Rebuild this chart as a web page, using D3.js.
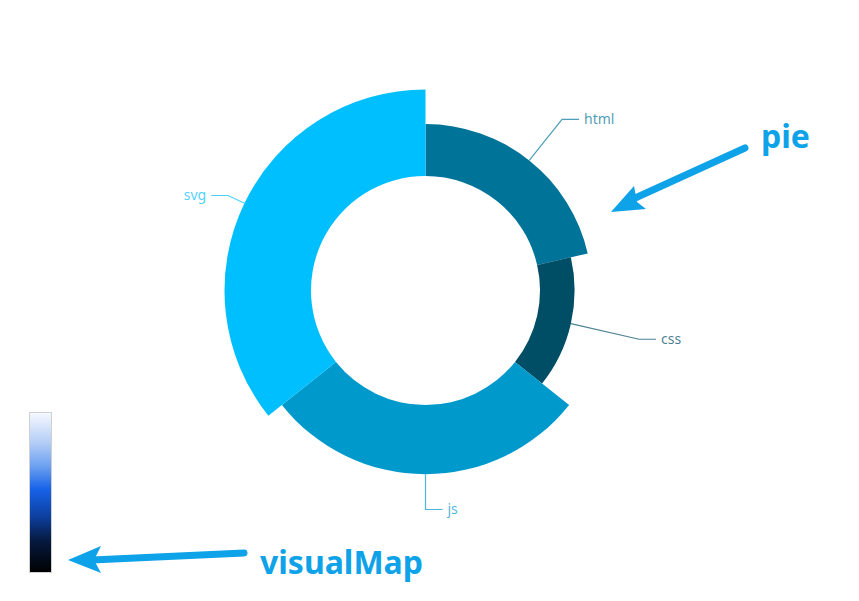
<!DOCTYPE html>
<html>
<head>
<meta charset="utf-8">
<script src="https://cdn.jsdelivr.net/npm/d3@7/dist/d3.min.js"></script>
<style>
  body { margin: 0; background: #fff; }
  text { font-family: "Noto Sans", "Open Sans", sans-serif; }
</style>
</head>
<body>
<div id="chart"></div>
<script>
const width = 859
const height = 601

// pie data
const names = ['html', 'css', 'js', 'svg']
const values = [60, 40, 80, 100]

// visualMap gradient (top -> bottom)
const mapStops = [
  { offset: 0, color: '#f6f9ff' },
  { offset: 0.19, color: '#b3cdf6' },
  { offset: 0.34, color: '#6a9ff0' },
  { offset: 0.48, color: '#1762e8' },
  { offset: 0.65, color: '#0d40a0' },
  { offset: 0.8, color: '#061a40' },
  { offset: 1, color: '#000000' }
]

const data = names.map((n, i) => ({ name: n, value: values[i] }))

const cx = 425.5
const cy = 290.5
const r0 = 114.5
const r1 = 201
const labelR = 219
const len2 = 17

const svg = d3.select('#chart')
  .append('svg')
  .attr('width', width)
  .attr('height', height)

const g = svg.append('g')
  .attr('transform', `translate(${cx},${cy})`)

const maxV = d3.max(values)
const rScale = d3.scaleLinear().domain([0, maxV]).range([r0, r1])
const light = d3.scaleLinear().domain([0, maxV]).range([0, 0.5])
const color = v => d3.hsl(195, 1, light(v)).formatHex()

const pie = d3.pie().sort(null).value(d => d.value)
const arcs = pie(data)

const arc = d3.arc()
  .innerRadius(r0)
  .outerRadius(d => rScale(d.data.value))

g.selectAll('.slice')
  .data(arcs)
  .enter().append('path')
  .attr('class', 'slice')
  .attr('d', arc)
  .attr('fill', d => color(d.data.value))

// labels
const labels = g.selectAll('.label')
  .data(arcs)
  .enter().append('g')
  .attr('class', 'label')

labels.each(function(d) {
  const a = (d.startAngle + d.endAngle) / 2
  const s = Math.sin(a)
  const c = -Math.cos(a)
  const r = rScale(d.data.value)
  const side = s >= -1e-6 ? 1 : -1
  const x1 = s * r, y1 = c * r
  const x2 = s * labelR, y2 = c * labelR
  const x3 = x2 + side * len2
  const col = color(d.data.value)
  const sel = d3.select(this)
  sel.append('polyline')
    .attr('points', [[x1, y1], [x2, y2], [x3, y2]].map(p => p.join(',')).join(' '))
    .attr('fill', 'none')
    .attr('stroke', col)
    .attr('stroke-opacity', 0.7)
    .attr('stroke-width', 1.2)
  sel.append('text')
    .attr('x', x3 + side * 5)
    .attr('y', y2)
    .attr('dy', '0.35em')
    .attr('text-anchor', side > 0 ? 'start' : 'end')
    .attr('fill', col)
    .attr('fill-opacity', 0.72)
    .attr('font-size', 14)
    .text(d.data.name)
})

// visualMap bar
const defs = svg.append('defs')
const grad = defs.append('linearGradient')
  .attr('id', 'vm')
  .attr('x1', 0).attr('y1', 0).attr('x2', 0).attr('y2', 1)
grad.selectAll('stop')
  .data(mapStops)
  .enter().append('stop')
  .attr('offset', d => d.offset)
  .attr('stop-color', d => d.color)

svg.append('rect')
  .attr('x', 29.5)
  .attr('y', 412.5)
  .attr('width', 22)
  .attr('height', 160)
  .attr('fill', 'url(#vm)')
  .attr('stroke', '#d0d0d0')
  .attr('stroke-width', 1)

// annotations
const arrowColor = '#0ea2e8'
const notes = [
  { text: 'pie', x: 761, y: 148, shaft: [[745, 148], [633, 199]], head: [[611, 212], [634, 186], [637, 202], [646, 209]] },
  { text: 'visualMap', x: 260, y: 574, shaft: [[244, 553], [92, 560]], head: [[68, 560], [101, 546], [94, 560], [101, 573]] }
]

notes.forEach(n => {
  svg.append('path')
    .attr('d', d3.line()(n.shaft))
    .attr('stroke', arrowColor)
    .attr('stroke-width', 7)
    .attr('stroke-linecap', 'round')
  svg.append('path')
    .attr('d', d3.line()(n.head) + 'Z')
    .attr('fill', arrowColor)
  svg.append('text')
    .attr('x', n.x)
    .attr('y', n.y)
    .attr('fill', arrowColor)
    .attr('font-size', 32)
    .attr('font-weight', 'bold')
    .text(n.text)
})
</script>
</body>
</html>
